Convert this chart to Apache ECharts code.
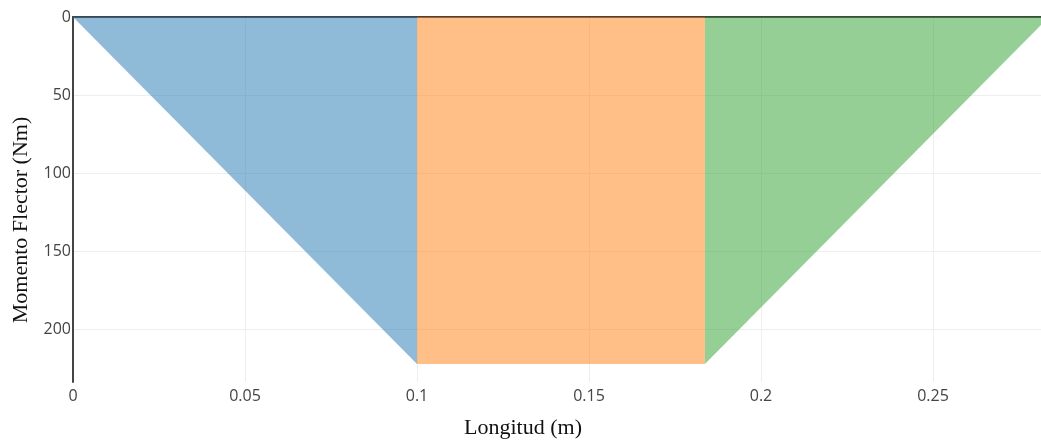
<!DOCTYPE html>
<html>
<head>
<meta charset="utf-8">
<script src="https://cdn.jsdelivr.net/npm/echarts@6/dist/echarts.min.js"></script>
<style>html,body{margin:0;padding:0;background:#fff}#c{width:1041px;height:442px}</style>
</head>
<body>
<div id="c"></div>
<script>
// Data (x in m, bending moment in Nm)
const segBlueX = [0, 0.1];
const segBlueY = [0, 222];
const segOrangeX = [0.1, 0.1837];
const segOrangeY = [222, 222];
const segGreenX = [0.1837, 0.2837];
const segGreenY = [222, 0];
const xTickLabels = ['0', '0.05', '0.1', '0.15', '0.2', '0.25'];
const yTickLabels = ['0', '50', '100', '150', '200'];
const xRange = [0, 0.2814];
const yRange = [0, 233.6];
const xTitle = 'Longitud (m)';
const yTitle = 'Momento Flector (Nm)';

const pts = (xs, ys) => xs.map((x, i) => [x, ys[i]]);
const area = (name, xs, ys, color) => ({
  name, type: 'line', data: pts(xs, ys), showSymbol: false, symbol: 'none',
  lineStyle: { width: 0 }, areaStyle: { color, opacity: 1, origin: 'start' },
  clip: true, silent: true, animation: false
});

const chart = echarts.init(document.getElementById('c'), null, { renderer: 'canvas' });
chart.setOption({
  animation: false,
  grid: { left: 73, right: 0, top: 17, bottom: 60, containLabel: false },
  xAxis: [{
    type: 'value', min: xRange[0], max: xRange[1], interval: 0.05, position: 'bottom',
    axisLine: { show: false }, axisTick: { show: false },
    axisLabel: { color: '#444', fontFamily: 'Open Sans', fontSize: 16, margin: 6, showMaxLabel: false,
      formatter: v => { const i = Math.round(v / 0.05); return Math.abs(v - i * 0.05) < 1e-9 ? xTickLabels[i] : ''; } },
    splitLine: { show: true, showMaxLine: false, lineStyle: { color: '#eee', width: 1 } }
  }, {
    type: 'value', min: xRange[0], max: xRange[1], position: 'top',
    axisLine: { show: true, onZero: false, lineStyle: { color: '#444', width: 2 } },
    axisTick: { show: false }, axisLabel: { show: false }, splitLine: { show: false }
  }],
  yAxis: {
    type: 'value', inverse: true, min: yRange[0], max: yRange[1], interval: 50,
    axisLine: { show: true, onZero: false, lineStyle: { color: '#444', width: 2 } },
    axisTick: { show: false },
    axisLabel: { color: '#444', fontFamily: 'Open Sans', fontSize: 16, margin: 2, showMaxLabel: false,
      formatter: v => { const i = Math.round(v / 50); return Math.abs(v - i * 50) < 1e-9 ? yTickLabels[i] : ''; } },
    splitLine: { show: true, showMaxLine: false, showMinLine: false, lineStyle: { color: '#eee', width: 1 } }
  },
  series: [
    area('s1', segBlueX, segBlueY, 'rgba(31,119,180,0.5)'),
    area('s2', segOrangeX, segOrangeY, 'rgba(255,127,14,0.5)'),
    area('s3', segGreenX, segGreenY, 'rgba(44,160,44,0.5)')
  ],
  graphic: [
    { type: 'text', x: 523, y: 428, style: { text: xTitle, font: '22px "Liberation Serif"', fill: '#111', align: 'center', verticalAlign: 'middle' } },
    { type: 'text', x: 21, y: 220, rotation: Math.PI / 2, style: { text: yTitle, font: '22px "Liberation Serif"', fill: '#111', align: 'center', verticalAlign: 'middle' } }
  ]
});
</script>
</body>
</html>
